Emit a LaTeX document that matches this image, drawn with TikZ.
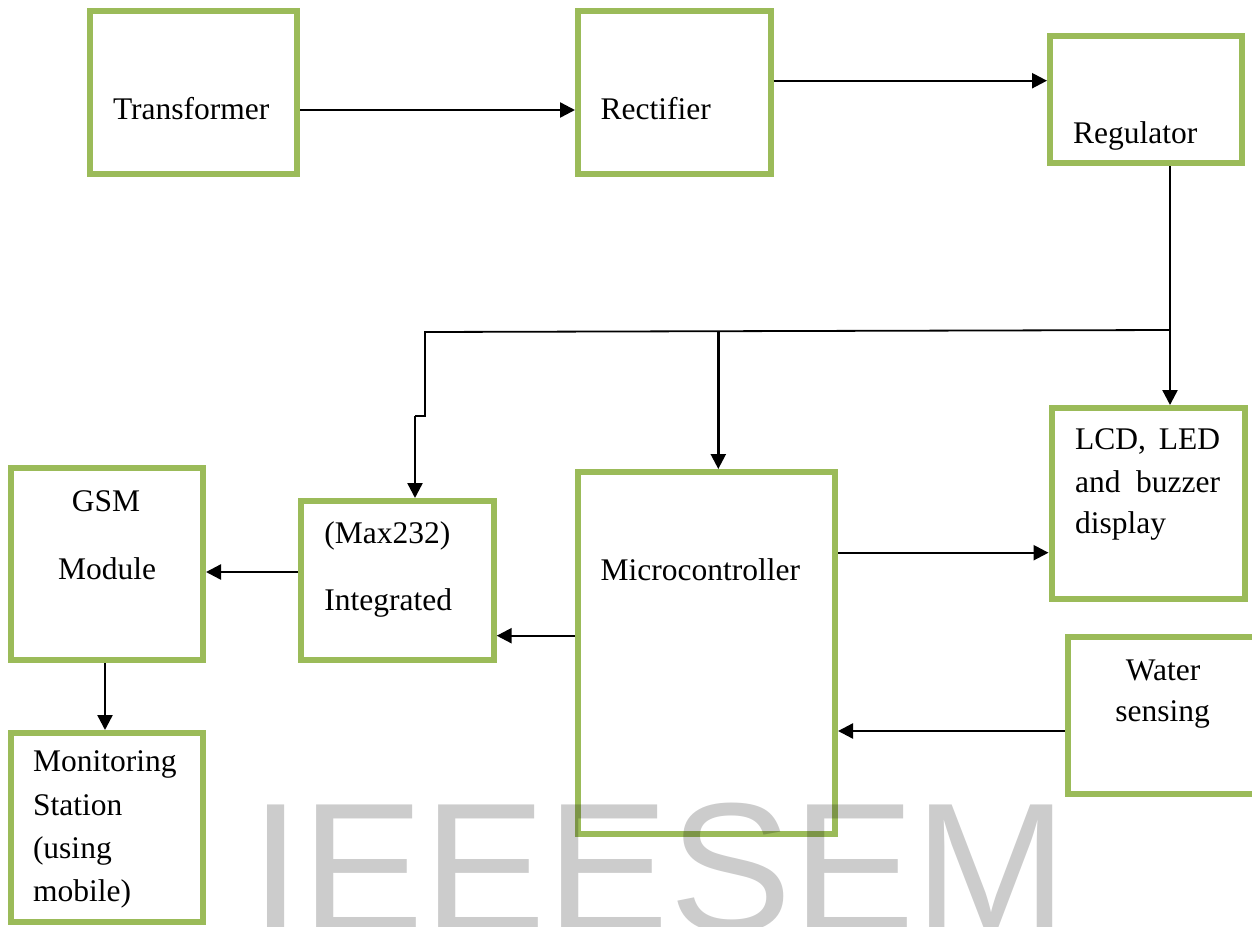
\documentclass[tikz,border=0pt]{standalone}
\usepackage{fontspec}
\setmainfont{Liberation Serif}
\newfontfamily\wmfont{Liberation Sans}
\usetikzlibrary{arrows.meta}
\definecolor{boxgreen}{HTML}{9BBB59}
\begin{document}
\begin{tikzpicture}[x=1pt,y=-1pt,
  blk/.style={draw=boxgreen,line width=6pt,rectangle,inner sep=0pt,fill=none},
  lbl/.style={inner sep=0pt,outer sep=0pt,anchor=base west,font=\fontsize{31.5}{36}\selectfont},
  clbl/.style={inner sep=0pt,outer sep=0pt,anchor=base,font=\fontsize{31.5}{36}\selectfont},
  arr/.style={line width=2.4pt,-{Triangle[length=15pt,width=15pt]}},
  bus/.style={line width=1.8pt},
]
\useasboundingbox (0,0) rectangle (1252,926);
\fill[white] (0,0) rectangle (1252,926);

% boxes
\node[blk,minimum width=207.5pt,minimum height=163pt] (trans) at (193.25,92.5) {};
\node[blk,minimum width=192.5pt,minimum height=163pt] (rect) at (674.25,92.5) {};
\node[blk,minimum width=192pt,minimum height=127pt] (reg) at (1146,99.5) {};
\node[blk,minimum width=193.5pt,minimum height=191pt] (lcd) at (1148.25,503.5) {};
\node[blk,minimum width=257pt,minimum height=362pt] (micro) at (706.5,653) {};
\node[blk,minimum width=192.7pt,minimum height=159pt] (max) at (397.35,580.5) {};
\node[blk,minimum width=192pt,minimum height=192pt] (gsm) at (107,564) {};
\node[blk,minimum width=192pt,minimum height=189pt] (mon) at (107,827.5) {};
\node[blk,minimum width=192pt,minimum height=157pt] (water) at (1163.5,715.5) {};

% labels
\node[lbl] (tTrans) at (113,119) {Transformer};
\node[lbl] (tRect) at (600.7,119) {Rectifier};
\node[lbl] (tReg) at (1073,143) {Regulator};
\node[lbl] (tLcdA) at (1075,449) {\makebox[145pt][s]{LCD, LED}};
\node[lbl] (tLcdB) at (1075,492.7) {\makebox[145pt][s]{and buzzer}};
\node[lbl] (tLcdC) at (1075,533) {display};
\node[lbl] (tMicro) at (600.7,580.7) {Microcontroller};
\node[lbl] (tMaxA) at (324.3,543) {(Max232)};
\node[lbl] (tMaxB) at (324.3,610) {Integrated};
\node[clbl] (tGsmA) at (106,511.7) {GSM};
\node[clbl] (tGsmB) at (107,579) {Module};
\node[lbl] (tMonA) at (33,771.7) {Monitoring};
\node[lbl] (tMonB) at (33,815) {Station};
\node[lbl] (tMonC) at (33,858) {(using};
\node[lbl] (tMonD) at (33,901.7) {mobile)};
\node[clbl] (tWatA) at (1163,680) {Water};
\node[clbl] (tWatB) at (1162.5,721) {sensing};

% connector coordinates
\coordinate (j1) at (1170,330);
\coordinate (j2) at (425,332);
\coordinate (j3) at (718.3,331);
\coordinate (k1) at (425,416);
\coordinate (k2) at (415,416);
\coordinate (g1) at (105,0);

% connectors
\draw[arr] (trans.east |- 0,110) -- (rect.west |- 0,110);
\draw[arr] (rect.east |- 0,80.7) -- (reg.west |- 0,80.7);
\draw[arr] (reg.south -| j1) -- (lcd.north -| j1);
\draw[bus] (j1) -- (j2) -- (k1) -- (k2);
\draw[arr] (k2) -- (max.north -| k2);
\draw[arr] (j3) -- (micro.north -| j3);
\draw[arr] (micro.east |- 0,552.7) -- (lcd.west |- 0,552.7);
\draw[arr] (micro.west |- 0,635.7) -- (max.east |- 0,635.7);
\draw[arr] (max.west |- 0,572) -- (gsm.east |- 0,572);
\draw[arr] (gsm.south -| g1) -- (mon.north -| g1);
\draw[arr] (water.west |- 0,731) -- (micro.east |- 0,731);

% watermark
\node[inner sep=0pt,outer sep=0pt,anchor=base west,text=black,text opacity=0.2,
  font=\wmfont\fontsize{184}{190}\selectfont] (wm) at (250,931) {IEEESEM};
\end{tikzpicture}
\end{document}
